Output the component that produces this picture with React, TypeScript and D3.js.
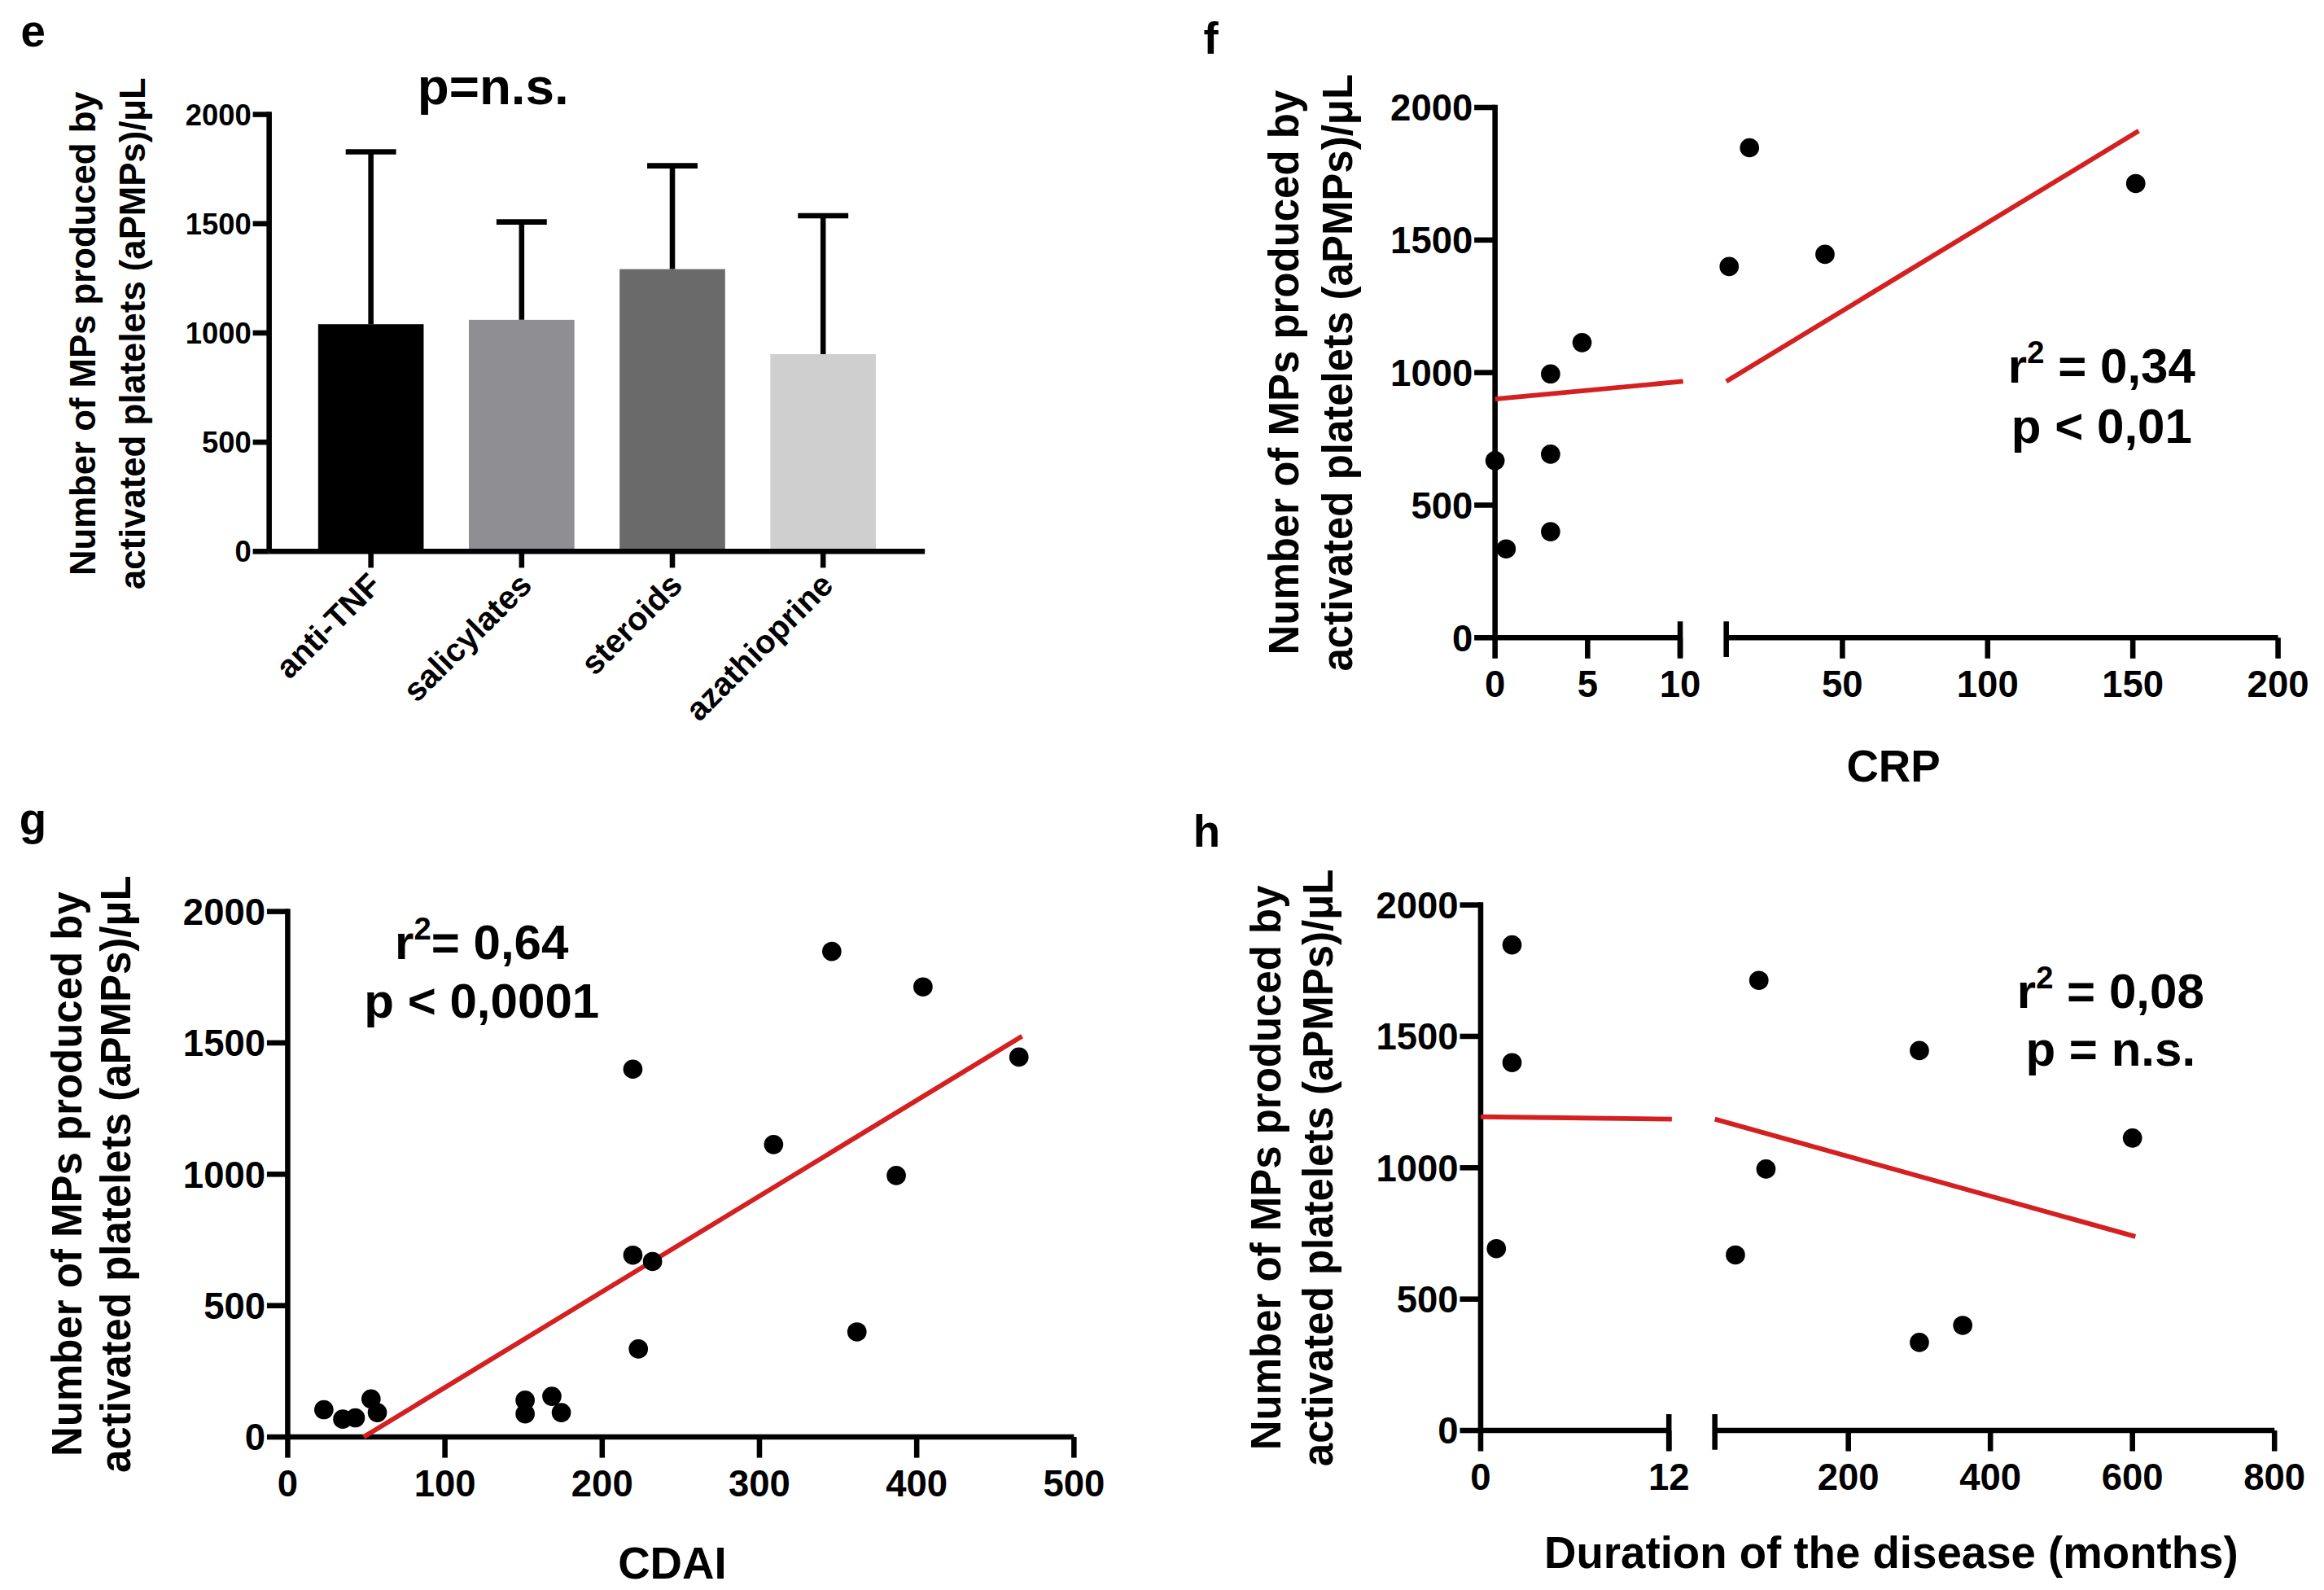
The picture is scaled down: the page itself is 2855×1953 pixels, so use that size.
import React from "react";
import * as d3 from "d3";

// ---------- data ----------
const treatments = ["anti-TNF", "salicylates", "steroids", "azathioprine"];
const treatmentMean = [1040, 1060, 1292, 903];
const treatmentSD = [789, 448, 473, 633];

const yTickValues = [0, 500, 1000, 1500, 2000];

const crpValues = [0, 0.6, 3, 3, 3, 4.7, 11, 18, 44, 151];
const crpAPMPs = [668, 335, 995, 692, 400, 1113, 1400, 1848, 1446, 1713];
const crpTicksLow = [0, 5, 10];
const crpTicksHigh = [50, 100, 150, 200];
const crpFit = [900, 6.7]; // intercept, slope

const cdaiValues = [23, 35, 43, 53, 57, 151, 151, 168, 174, 219.5, 219.5, 232, 223, 309, 346, 362, 387, 404, 465];
const cdaiAPMPs = [104, 68, 73, 145, 93, 140, 88, 155, 93, 1400, 692, 668, 335, 1113, 1848, 400, 995, 1713, 1446];
const cdaiTicks = [0, 100, 200, 300, 400, 500];
const cdaiFit = [-176, 3.644];

const durationMonths = [1, 2, 2, 41, 74, 84, 300, 300, 361, 600];
const durationAPMPs = [692, 1848, 1400, 668, 1713, 995, 1446, 335, 400, 1113];
const durTicksLow = [0, 12];
const durTicksHigh = [200, 400, 600, 800];
const durationFit = [1194, -0.76];

// ---------- style ----------
const FONT = "'Liberation Sans', Arial, Helvetica, sans-serif";
const BAR_COLORS = ["#000000", "#8e8e93", "#6a6a6a", "#cfcfcf"];
const RED = "#d42020";
const AX = 3.6;
const INK = "#000";

type Seg = { domain: [number, number]; range: [number, number]; ticks: number[]; capLeft: boolean; capRight: boolean };

function YAxis({ x, y, fontSize, tickLen }: { x: number; y: d3.ScaleLinear<number, number>; fontSize: number; tickLen: number }) {
  return (
    <g>
      <line x1={x} x2={x} y1={y(2000) - AX / 2} y2={y(0)} stroke={INK} strokeWidth={AX} />
      {yTickValues.map((t) => (
        <g key={t}>
          <line x1={x - tickLen} x2={x} y1={y(t)} y2={y(t)} stroke={INK} strokeWidth={AX} />
          <text x={x - tickLen - 1} y={y(t)} dy="0.36em" textAnchor="end" fontSize={fontSize} fontFamily={FONT} fontWeight="bold">
            {t}
          </text>
        </g>
      ))}
    </g>
  );
}

function BrokenXAxis({ y0, segs, fontSize, tickLen }: { y0: number; segs: Seg[]; fontSize: number; tickLen: number }) {
  return (
    <g>
      {segs.map((s, i) => {
        const sc = d3.scaleLinear().domain(s.domain).range(s.range);
        return (
          <g key={i}>
            <line x1={s.range[0]} x2={s.range[1]} y1={y0} y2={y0} stroke={INK} strokeWidth={AX} />
            {s.capLeft && <line x1={s.range[0]} x2={s.range[0]} y1={y0 - 11} y2={y0 + 13} stroke={INK} strokeWidth={AX} />}
            {s.capRight && <line x1={s.range[1]} x2={s.range[1]} y1={y0 - 11} y2={y0 + 13} stroke={INK} strokeWidth={AX} />}
            {s.ticks.map((t) => (
              <g key={t}>
                <line x1={sc(t)} x2={sc(t)} y1={y0} y2={y0 + tickLen} stroke={INK} strokeWidth={AX} />
                <text x={sc(t)} y={y0 + 40} textAnchor="middle" fontSize={fontSize} fontFamily={FONT} fontWeight="bold">
                  {t}
                </text>
              </g>
            ))}
          </g>
        );
      })}
    </g>
  );
}

function YLabel({ x1, x2, cy, fontSize }: { x1: number; x2: number; cy: number; fontSize: number }) {
  return (
    <g fontFamily={FONT} fontWeight="bold" fontSize={fontSize} textAnchor="middle" fill={INK}>
      <text transform={`translate(${x1},${cy}) rotate(-90)`}>Number of MPs produced by</text>
      <text transform={`translate(${x2},${cy}) rotate(-90)`}>activated platelets (aPMPs)/μL</text>
    </g>
  );
}

function StatText({ cx, y1, y2, rest, p }: { cx: number; y1: number; y2: number; rest: string; p: string }) {
  return (
    <g fontFamily={FONT} fontWeight="bold" fontSize={33} textAnchor="middle" fill={INK}>
      <text x={cx} y={y1}>
        <tspan>r</tspan>
        <tspan dy={-13} fontSize={21}>2</tspan>
        <tspan dy={13}>{rest}</tspan>
      </text>
      <text x={cx} y={y2}>{p}</text>
    </g>
  );
}

function PanelLetter({ x, y, ch }: { x: number; y: number; ch: string }) {
  return (
    <text x={x} y={y} fontFamily={FONT} fontWeight="bold" fontSize={30} fill={INK}>
      {ch}
    </text>
  );
}

// ---------- panel e ----------
function PanelE() {
  const axisX = 181.6;
  const y = d3.scaleLinear().domain([0, 2000]).range([372, 77.2]);
  const x = d3.scaleBand<string>().domain(treatments).range([axisX, 624]).paddingInner(0.3).paddingOuter(0.325);
  const bw = x.bandwidth();
  return (
    <g>
      <PanelLetter x={14} y={31.5} ch="e" />
      <text x={332.7} y={70.5} textAnchor="middle" fontFamily={FONT} fontWeight="bold" fontSize={35}>
        p=n.s.
      </text>
      {treatments.map((t, i) => {
        const cx = (x(t) as number) + bw / 2;
        const top = y(treatmentMean[i] + treatmentSD[i]);
        return (
          <g key={t}>
            <line x1={cx} x2={cx} y1={y(treatmentMean[i])} y2={top} stroke={INK} strokeWidth={AX} />
            <line x1={cx - 17} x2={cx + 17} y1={top} y2={top} stroke={INK} strokeWidth={AX} />
            <rect x={x(t)} y={y(treatmentMean[i])} width={bw} height={y(0) - y(treatmentMean[i])} fill={BAR_COLORS[i]} />
          </g>
        );
      })}
      <YAxis x={axisX} y={y} fontSize={20} tickLen={11} />
      <line x1={axisX} x2={624} y1={y(0)} y2={y(0)} stroke={INK} strokeWidth={AX} />
      {treatments.map((t) => {
        const cx = (x(t) as number) + bw / 2;
        return (
          <g key={t}>
            <line x1={cx} x2={cx} y1={y(0)} y2={y(0) + 11} stroke={INK} strokeWidth={AX} />
            <text
              transform={`translate(${cx + 8},${y(0) + 24}) rotate(-45)`}
              textAnchor="end"
              fontFamily={FONT}
              fontWeight="bold"
              fontSize={22}
            >
              {t}
            </text>
          </g>
        );
      })}
      <YLabel x1={64} x2={98} cy={225} fontSize={24} />
    </g>
  );
}

// ---------- broken-axis scatter (f, h) ----------
function BrokenScatter({
  letter, letterPos, axisX, yRange, seg1, seg2, xs, ys, fit, xLabel, xLabelPos, labelX, stat,
}: {
  letter: string; letterPos: [number, number]; axisX: number; yRange: [number, number];
  seg1: Seg; seg2: Seg; xs: number[]; ys: number[]; fit: number[]; xLabel: string; xLabelPos: [number, number];
  labelX: [number, number]; stat: { cx: number; y1: number; y2: number; rest: string; p: string };
}) {
  const y = d3.scaleLinear().domain([0, 2000]).range(yRange);
  const s1 = d3.scaleLinear().domain(seg1.domain).range(seg1.range);
  const s2 = d3.scaleLinear().domain(seg2.domain).range(seg2.range);
  const brk = seg1.domain[1];
  const px = (v: number) => (v <= brk ? s1(v) : s2(v));
  const f = (v: number) => fit[0] + fit[1] * v;
  const xmax = d3.max(xs) as number;
  const line = d3.line<number>().x((d) => d[0]).y((d) => d[1]);
  const p1 = line([[s1(seg1.domain[0]), y(f(seg1.domain[0]))], [s1(brk) + 2, y(f(brk))]] as any) as string;
  const p2 = line([[s2(seg2.domain[0]), y(f(seg2.domain[0]))], [s2(xmax) + 2, y(f(xmax))]] as any) as string;
  return (
    <g>
      <PanelLetter x={letterPos[0]} y={letterPos[1]} ch={letter} />
      <YAxis x={axisX} y={y} fontSize={25} tickLen={14} />
      <BrokenXAxis y0={y(0)} segs={[seg1, seg2]} fontSize={25} tickLen={14} />
      <path d={p1} stroke={RED} strokeWidth={3.2} fill="none" />
      <path d={p2} stroke={RED} strokeWidth={3.2} fill="none" />
      {xs.map((v, i) => (
        <circle key={i} cx={px(v)} cy={y(ys[i])} r={6.5} fill={INK} />
      ))}
      <StatText {...stat} />
      <text x={xLabelPos[0]} y={xLabelPos[1]} textAnchor="middle" fontFamily={FONT} fontWeight="bold" fontSize={30}>
        {xLabel}
      </text>
      <YLabel x1={labelX[0]} x2={labelX[1]} cy={(yRange[0] + yRange[1]) / 2} fontSize={28} />
    </g>
  );
}

// ---------- panel g ----------
function PanelG() {
  const axisX = 194.1;
  const y = d3.scaleLinear().domain([0, 2000]).range([969.4, 614.9]);
  const x = d3.scaleLinear().domain([0, 500]).range([axisX, 724.6]);
  const xmax = d3.max(cdaiValues) as number;
  const x0 = -cdaiFit[0] / cdaiFit[1];
  const path = d3.line<number[]>().x((d) => x(d[0])).y((d) => y(cdaiFit[0] + cdaiFit[1] * d[0]))([[x0], [xmax + 2]]) as string;
  return (
    <g>
      <PanelLetter x={13} y={563} ch="g" />
      <YAxis x={axisX} y={y} fontSize={25} tickLen={14} />
      <line x1={axisX} x2={x(500)} y1={y(0)} y2={y(0)} stroke={INK} strokeWidth={AX} />
      {cdaiTicks.map((t) => (
        <g key={t}>
          <line x1={x(t)} x2={x(t)} y1={y(0)} y2={y(0) + 14} stroke={INK} strokeWidth={AX} />
          <text x={x(t)} y={y(0) + 40} textAnchor="middle" fontFamily={FONT} fontWeight="bold" fontSize={25}>
            {t}
          </text>
        </g>
      ))}
      <path d={path} stroke={RED} strokeWidth={3.2} fill="none" />
      {cdaiValues.map((v, i) => (
        <circle key={i} cx={x(v)} cy={y(cdaiAPMPs[i])} r={6.5} fill={INK} />
      ))}
      <StatText cx={325} y1={647} y2={686.5} rest="= 0,64" p="p < 0,0001" />
      <text x={453.6} y={1065} textAnchor="middle" fontFamily={FONT} fontWeight="bold" fontSize={30}>
        CDAI
      </text>
      <YLabel x1={55} x2={88} cy={792} fontSize={28} />
    </g>
  );
}

export default function App() {
  const W = 2855;
  const H = 1953;
  const vbW = 1568;
  const vbH = (H * vbW) / W;
  return (
    <svg
      width={W}
      height={H}
      viewBox={`0 0 ${vbW} ${vbH}`}
      style={{ position: "absolute", left: 0, top: 0, background: "#fff" }}
    >
      <rect x={0} y={0} width={vbW} height={vbH} fill="#fff" />
      <PanelE />
      <BrokenScatter
        letter="f"
        letterPos={[812, 36]}
        axisX={1008.7}
        yRange={[430.2, 72.5]}
        seg1={{ domain: [0, 10], range: [1008.7, 1133.6], ticks: crpTicksLow, capLeft: false, capRight: true }}
        seg2={{ domain: [10, 200], range: [1164.7, 1537], ticks: crpTicksHigh, capLeft: true, capRight: false }}
        xs={crpValues}
        ys={crpAPMPs}
        fit={crpFit}
        xLabel="CRP"
        xLabelPos={[1277.5, 527]}
        labelX={[876, 912]}
        stat={{ cx: 1418, y1: 258, y2: 299, rest: " = 0,34", p: "p < 0,01" }}
      />
      <PanelG />
      <BrokenScatter
        letter="h"
        letterPos={[805, 571]}
        axisX={999}
        yRange={[965, 610.5]}
        seg1={{ domain: [0, 12], range: [999, 1126], ticks: durTicksLow, capLeft: false, capRight: true }}
        seg2={{ domain: [12, 800], range: [1157, 1534.6], ticks: durTicksHigh, capLeft: true, capRight: false }}
        xs={durationMonths}
        ys={durationAPMPs}
        fit={durationFit}
        xLabel="Duration of the disease (months)"
        xLabelPos={[1276, 1058]}
        labelX={[864, 899]}
        stat={{ cx: 1424, y1: 680, y2: 719, rest: " = 0,08", p: "p = n.s." }}
      />
    </svg>
  );
}
